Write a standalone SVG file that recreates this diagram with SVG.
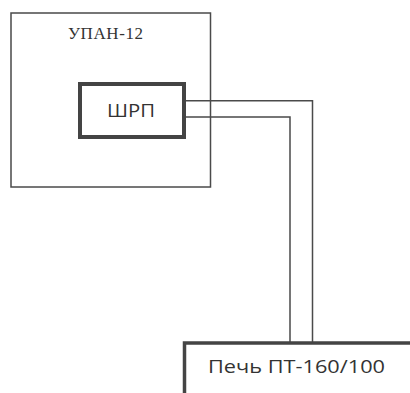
<svg xmlns="http://www.w3.org/2000/svg" width="410" height="393" viewBox="0 0 410 393">
<style>
.thin{fill:none;stroke:#4a4a4a;stroke-width:1.5}
.thick{fill:#fff;stroke:#444;stroke-width:4}
.sans{font-family:"Open Sans","Liberation Sans",Arial,sans-serif;fill:#333}
.serif{font-family:"Liberation Serif","Times New Roman",serif;fill:#333}
</style>
<rect width="410" height="393" fill="#fff"/>
<g id="upan">
<rect class="thin" x="11" y="13" width="199.5" height="174"/>
<text class="serif" x="68" y="39" font-size="17" textLength="75">УПАН-12</text>
</g>
<g id="connectors">
<polyline class="thin" points="184,100.7 312.5,100.7 312.5,342"/>
<polyline class="thin" points="184,117 290,117 290,342"/>
</g>
<g id="shrp">
<rect class="thick" x="80" y="84" width="104" height="53"/>
<text class="sans" x="107" y="117" font-size="19" textLength="48" lengthAdjust="spacingAndGlyphs">ШРП</text>
</g>
<g id="pech">
<path d="M184.5,400 V343 H412" fill="#fff" stroke="#444" stroke-width="3.5"/>
<text class="sans" x="208" y="373" font-size="19" textLength="177" lengthAdjust="spacingAndGlyphs">Печь ПТ-160/100</text>
</g>
</svg>
